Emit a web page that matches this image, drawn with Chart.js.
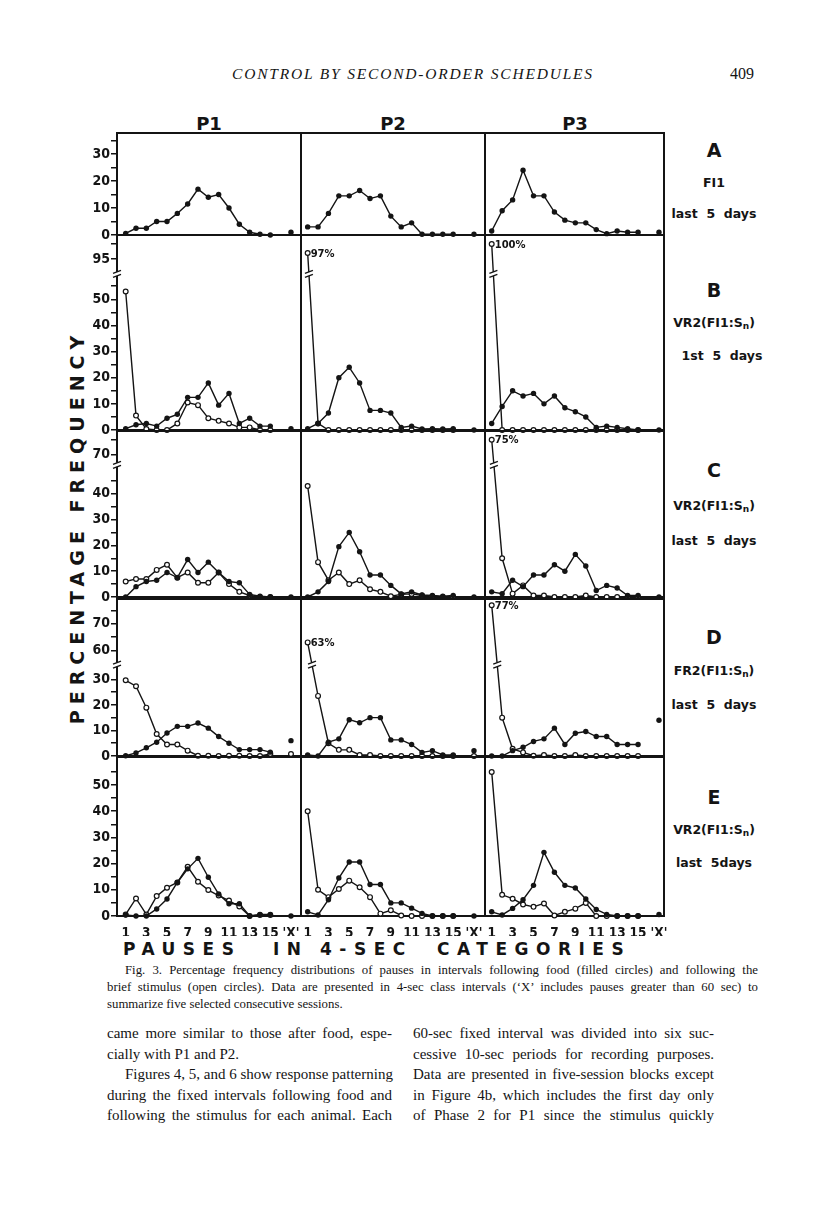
<!DOCTYPE html>
<html lang="en">
<head>
<meta charset="UTF-8">
<title>Fig. 3 - Control by second-order schedules</title>
<script src="https://cdn.jsdelivr.net/npm/chart.js"></script>
<style>
  body { margin: 0; background: #fff; }
  #page { position: relative; width: 816px; height: 1207px; overflow: hidden; color: #141414; font-family: "DejaVu Sans", sans-serif; }
  #page canvas { position: absolute; }
  .t { position: absolute; white-space: nowrap; transform: translate(-50%, -50%); }
  .head { font-family: "Liberation Serif", serif; font-style: italic; font-size: 15.5px; letter-spacing: 1.8px; }
  .pno { font-family: "Liberation Serif", serif; font-size: 16px; }
  .pl { font-weight: bold; font-size: 18px; }
  .letter { font-weight: bold; font-size: 19px; }
  .side { font-weight: bold; font-size: 12.5px; }
  .side sub { font-size: 9px; vertical-align: -2px; }
  .ytitle { font-weight: bold; font-size: 19px; letter-spacing: 6px; transform: translate(-50%, -50%) rotate(-90deg); }
  .xtitle { position: absolute; white-space: nowrap; font-weight: bold; font-size: 17px; letter-spacing: 7.5px; transform: translateY(-50%); }
  .ln { position: absolute; font-family: "Liberation Serif", serif; white-space: nowrap; text-align: justify; text-align-last: justify; transform: translateY(-50%); }
  .ln.last { text-align-last: left; }
  .cap { font-size: 12.8px; }
  .body { font-size: 15px; }
</style>
</head>
<body>
<div id="page">
  <div class="t head" style="left:413px; top:74px;">CONTROL BY SECOND-ORDER SCHEDULES</div>
  <div class="t pno" style="left:742px; top:74px;">409</div>

  <div class="t pl" style="left:209px; top:123px;">P1</div>
  <div class="t pl" style="left:393px; top:123px;">P2</div>
  <div class="t pl" style="left:575px; top:123px;">P3</div>

  <div class="t ytitle" style="left:77px; top:527px;">PERCENTAGE FREQUENCY</div>

  <div class="t letter" style="left:714px; top:150px;">A</div>
  <div class="t side" style="left:714px; top:182px;">FI1</div>
  <div class="t side" style="left:714px; top:213px;">last&nbsp; 5&nbsp; days</div>
  <div class="t letter" style="left:714px; top:290px;">B</div>
  <div class="t side" style="left:714px; top:323px;">VR2(FI1:S<sub>n</sub>)</div>
  <div class="t side" style="left:722px; top:355px;">1st&nbsp; 5&nbsp; days</div>
  <div class="t letter" style="left:714px; top:470px;">C</div>
  <div class="t side" style="left:714px; top:506px;">VR2(FI1:S<sub>n</sub>)</div>
  <div class="t side" style="left:714px; top:540px;">last&nbsp; 5&nbsp; days</div>
  <div class="t letter" style="left:714px; top:637px;">D</div>
  <div class="t side" style="left:714px; top:671px;">FR2(FI1:S<sub>n</sub>)</div>
  <div class="t side" style="left:714px; top:704px;">last&nbsp; 5&nbsp; days</div>
  <div class="t letter" style="left:714px; top:797px;">E</div>
  <div class="t side" style="left:714px; top:830px;">VR2(FI1:S<sub>n</sub>)</div>
  <div class="t side" style="left:714px; top:862px;">last&nbsp; 5days</div>

  <div class="xtitle" style="left:123px; top:949px;">PAUSES</div>
  <div class="xtitle" style="left:273px; top:949px;">IN</div>
  <div class="xtitle" style="left:320px; top:949px;">4-SEC</div>
  <div class="xtitle" style="left:437px; top:949px;">CATEGORIES</div>

  <div class="ln cap" style="left:125px; width:633px; top:970px;">Fig. 3. Percentage frequency distributions of pauses in intervals following food (filled circles) and following the</div>
  <div class="ln cap" style="left:107px; width:651px; top:987px;">brief stimulus (open circles). Data are presented in 4-sec class intervals (‘X’ includes pauses greater than 60 sec) to</div>
  <div class="ln cap last" style="left:107px; width:651px; top:1004px;">summarize five selected consecutive sessions.</div>

  <div class="ln body" style="left:107px; width:285px; top:1033px;">came more similar to those after food, espe-</div>
  <div class="ln body last" style="left:107px; width:285px; top:1054px;">cially with P1 and P2.</div>
  <div class="ln body" style="left:125px; width:267px; top:1074px;">Figures 4, 5, and 6 show response patterning</div>
  <div class="ln body" style="left:107px; width:285px; top:1095px;">during the fixed intervals following food and</div>
  <div class="ln body" style="left:107px; width:285px; top:1115px;">following the stimulus for each animal. Each</div>

  <div class="ln body" style="left:413px; width:301px; top:1033px;">60-sec fixed interval was divided into six suc-</div>
  <div class="ln body" style="left:413px; width:301px; top:1054px;">cessive 10-sec periods for recording purposes.</div>
  <div class="ln body" style="left:413px; width:301px; top:1074px;">Data are presented in five-session blocks except</div>
  <div class="ln body" style="left:413px; width:301px; top:1095px;">in Figure 4b, which includes the first day only</div>
  <div class="ln body" style="left:413px; width:301px; top:1115px;">of Phase 2 for P1 since the stimulus quickly</div>
</div>

<script>
// pause categories: 1..15, an empty slot, then 'X' (> 60 sec)
const CATEGORIES = ['1','2','3','4','5','6','7','8','9','10','11','12','13','14','15','','X'];
const X_TICKS = [1, 3, 5, 7, 9, 11, 13, 15, 17];
const X_TICK_LABELS = ['1','3','5','7','9','11','13','15',"'X'"];

// y ticks per row (raw percent values; broken axes jump)
const Y_TICKS_A = [0, 5, 10, 15, 20, 25, 30, 35];
const Y_TICKS_B = [0, 5, 10, 15, 20, 25, 30, 35, 40, 45, 50, 55, 95, 100];
const Y_TICKS_C = [0, 5, 10, 15, 20, 25, 30, 35, 40, 45, 70, 75];
const Y_TICKS_D = [0, 5, 10, 15, 20, 25, 30, 60, 65, 70, 75];
const Y_TICKS_E = [0, 5, 10, 15, 20, 25, 30, 35, 40, 45, 50, 55];

// A: FI1 last 5 days (food only)
const A_P1_FOOD = [0.6, 2.5, 2.5, 5, 5, 8, 11.5, 17, 14, 15, 10, 4, 1, 0.3, 0, null, 1];
const A_P2_FOOD = [3, 3, 8, 14.5, 14.5, 16.5, 13.5, 14.5, 7, 3, 4.5, 0.3, 0.3, 0.3, 0.3, null, 0.3];
const A_P3_FOOD = [1.5, 9, 13, 24, 14.5, 14.5, 8.5, 5.5, 4.5, 4.5, 2, 0.5, 1.5, 1, 1, null, 1];

// B: VR2(FI1:Sn) 1st 5 days
const B_P1_FOOD = [0.5, 2, 2.5, 1.5, 4.5, 6, 12.5, 12.5, 18, 9.5, 14, 2.5, 4.5, 1.5, 1.5, null, 0.5];
const B_P1_STIM = [53, 5.5, 0.4, 0, 0, 2.5, 10.5, 9.5, 4.5, 3.5, 2.5, 1, 1, 0, 0, null, null];
const B_P2_FOOD = [0.5, 2.5, 6.5, 20, 24, 18, 7.5, 7.5, 6.5, 1, 1.5, 0.4, 0.5, 0.4, 0.5, null, 0];
const B_P2_STIM = [97, 2.5, 0, 0, 0, 0, 0, 0, 0, 0, 0, 0, 0, 0, 0, null, null];
const B_P3_FOOD = [2.5, 9, 15, 13, 14, 10, 13, 8.5, 7, 5, 1, 1.5, 1, 0.5, 0, null, 0];
const B_P3_STIM = [100, 0, 0, 0, 0, 0, 0, 0, 0, 0, 0, 0, 0, 0, 0, null, null];

// C: VR2(FI1:Sn) last 5 days
const C_P1_FOOD = [0, 4, 6, 6.5, 9.5, 7.5, 14.5, 9.5, 13.5, 9.5, 6, 5.5, 1, 0.3, 0, null, 0];
const C_P1_STIM = [6, 7, 7, 10.5, 12.5, 7.5, 9.5, 5.5, 5.5, 9.5, 5, 2, 0.6, 0, 0, null, null];
const C_P2_FOOD = [0, 2, 6, 19.5, 25, 17.5, 8.5, 8.5, 4.5, 1.2, 2, 0.8, 0.6, 0.3, 0.6, null, 0];
const C_P2_STIM = [43, 13.5, 6.5, 9.5, 5, 6.5, 3, 2, 0.3, 1, 1.2, 0.6, 0.3, 0, 0, null, null];
const C_P3_FOOD = [2, 1.3, 6.5, 4, 8.5, 8.5, 12.5, 10, 16.5, 12, 2.5, 4.5, 3.5, 0.6, 0.6, null, 0];
const C_P3_STIM = [75, 15, 1.3, 4.5, 0.6, 0.6, 0, 0, 0, 0.6, 0, 0, 0, 0, 0, null, null];

// D: FR2(FI1:Sn) last 5 days
const D_P1_FOOD = [0.1, 1.2, 3.2, 5.4, 9, 11.6, 11.6, 12.9, 10.9, 7.6, 5, 2.5, 2.5, 2.5, 1.5, null, 6];
const D_P1_STIM = [29.6, 27.3, 18.9, 8.6, 4.5, 4.5, 2.1, 0.1, 0.1, 0, 0.1, 0.1, 0, 0, 0.8, null, 0.8];
const D_P2_FOOD = [0.4, 0, 5.4, 6.7, 14.2, 13, 15, 15, 6.3, 6.3, 4.5, 1.4, 2.1, 0.4, 0.4, null, 2.1];
const D_P2_STIM = [63, 23.5, 5, 2.4, 2.4, 0.4, 0.4, 0, 0, 0, 0, 0, 0, 0, 0, null, 0];
const D_P3_FOOD = [0, 0, 2.1, 3.4, 5.7, 6.7, 10.9, 4.5, 8.9, 9.6, 7.6, 7.6, 4.5, 4.5, 4.5, null, 14];
const D_P3_STIM = [77, 15, 2.8, 1.4, 0.1, 0.4, 0, 0, 0.4, 0, 0, 0, 0, 0, 0, null, null];

// E: VR2(FI1:Sn) last 5 days
const E_P1_FOOD = [0.4, 0, 0, 2.7, 6.5, 12.8, 18, 22, 14.8, 8.4, 4.7, 4.7, 0, 0.6, 0.6, null, 0];
const E_P1_STIM = [0.6, 6.7, 0.6, 7.6, 10.8, 12.8, 18.8, 13.1, 9.9, 7.8, 5.9, 3.6, 0, 0.4, 0.4, null, null];
const E_P2_FOOD = [1.6, 0.4, 6.2, 14.5, 20.6, 20.6, 12, 12, 5, 5, 3, 1, 0, 0, 0, null, 0];
const E_P2_STIM = [40, 10, 7.2, 10.3, 13.5, 11, 7.2, 0.9, 2.2, 0.2, 0, 0, 0, 0, 0, null, null];
const E_P3_FOOD = [1.6, 0.4, 2.9, 6.2, 11.7, 24.3, 16.7, 11.7, 10.7, 6.5, 2.5, 0.6, 0, 0, 0, null, 0.6];
const E_P3_STIM = [55, 8.1, 6.6, 4.4, 3.5, 4.8, 0.2, 1.6, 2.8, 5, 0, 0, 0, 0, 0, null, null];

const PANELS = [
  [{ food: A_P1_FOOD }, { food: A_P2_FOOD }, { food: A_P3_FOOD }],
  [{ food: B_P1_FOOD, stim: B_P1_STIM }, { food: B_P2_FOOD, stim: B_P2_STIM }, { food: B_P3_FOOD, stim: B_P3_STIM }],
  [{ food: C_P1_FOOD, stim: C_P1_STIM }, { food: C_P2_FOOD, stim: C_P2_STIM }, { food: C_P3_FOOD, stim: C_P3_STIM }],
  [{ food: D_P1_FOOD, stim: D_P1_STIM }, { food: D_P2_FOOD, stim: D_P2_STIM }, { food: D_P3_FOOD, stim: D_P3_STIM }],
  [{ food: E_P1_FOOD, stim: E_P1_STIM }, { food: E_P2_FOOD, stim: E_P2_STIM }, { food: E_P3_FOOD, stim: E_P3_STIM }]
];

// layout of the grid (page pixels) and axis setup per row
const ROWS = [
  { top: 133, bottom: 235, max: 37.8, ticks: Y_TICKS_A, brk: null },
  { top: 235, bottom: 430, max: 74.6, ticks: Y_TICKS_B, brk: { lo: 55, at: 59.7, base: 65.4, ref: 95, k: 1.15 } },
  { top: 431, bottom: 597, max: 64.3, ticks: Y_TICKS_C, brk: { lo: 45, at: 51.2, base: 55.1, ref: 70, k: 1.16 } },
  { top: 599, bottom: 756, max: 61.4, ticks: Y_TICKS_D, brk: { lo: 32, at: 35.7, base: 41.3, ref: 60, k: 1.04 } },
  { top: 757, bottom: 916, max: 60.7, ticks: Y_TICKS_E, brk: null }
];
const COLS = [
  { left: 117, right: 301, xmin: 0.16, xmax: 17.97 },
  { left: 301, right: 485, xmin: 0.36, xmax: 18.06 },
  { left: 485, right: 664, xmin: 0.36, xmax: 17.48 }
];

const INK = '#141414';
const PAD = 14, AXW = 62, XH = 20;
const TICK_FONT = { family: '"DejaVu Sans Condensed", "Liberation Sans Narrow", sans-serif', size: 14, weight: 'bold' };

function mapY(brk, v) {
  if (v === null) return null;
  if (!brk || v <= brk.lo) return v;
  return brk.base + (v - brk.ref) * brk.k;
}

function yLabel(v) {
  return (v % 10 === 0 && v < 100) || v === 95 ? String(v) : '';
}

function drawBreak(ctx, x, y) {
  ctx.save();
  ctx.strokeStyle = INK;
  ctx.lineWidth = 1.4;
  ctx.fillStyle = '#fff';
  ctx.fillRect(x - 3, y - 2, 6, 4);
  [-2, 2].forEach(d => {
    ctx.beginPath();
    ctx.moveTo(x - 4, y + d + 1.5);
    ctx.lineTo(x + 4, y + d - 1.5);
    ctx.stroke();
  });
  ctx.restore();
}

const figPlugin = {
  id: 'fig',
  beforeDatasetsDraw(chart, args, opts) {
    const a = chart.chartArea, ctx = chart.ctx;
    ctx.save();
    ctx.strokeStyle = INK;
    ctx.lineWidth = 2;
    ctx.strokeRect(a.left, a.top, a.right - a.left, a.bottom - a.top);
    ctx.restore();
  },
  afterDatasetsDraw(chart, args, opts) {
    const brk = ROWS[opts.row].brk;
    if (!brk) return;
    const ctx = chart.ctx;
    const yb = chart.scales.y.getPixelForValue(brk.at);
    if (opts.col === 0) drawBreak(ctx, chart.chartArea.left, yb);
    chart.data.datasets.forEach((ds, i) => {
      if (ds.values[0] <= brk.lo) return;
      const pts = chart.getDatasetMeta(i).data;
      const p0 = pts[0], p1 = pts[1];
      const t = (yb - p0.y) / (p1.y - p0.y);
      drawBreak(ctx, p0.x + t * (p1.x - p0.x), yb);
      ctx.save();
      ctx.fillStyle = INK;
      ctx.font = 'bold 10px "DejaVu Sans", sans-serif';
      ctx.textBaseline = 'middle';
      ctx.fillText(ds.values[0] + '%', p0.x + 3, p0.y + 1);
      ctx.restore();
    });
  }
};

function makeDataset(values, filled, brk) {
  return {
    values: values,
    data: values.map((v, i) => ({ x: i + 1, y: mapY(brk, v) })),
    borderColor: INK,
    borderWidth: 1.4,
    pointRadius: filled ? 2.7 : 2.4,
    pointBackgroundColor: filled ? INK : '#fff',
    pointBorderColor: INK,
    pointBorderWidth: filled ? 0 : 1.2,
    pointHoverRadius: 0,
    tension: 0,
    fill: false,
    clip: false,
    spanGaps: false
  };
}

function makePanel(r, c) {
  const row = ROWS[r], col = COLS[c];
  const showX = r === ROWS.length - 1;
  const showY = c === 0;
  const leftSpace = showY ? AXW : PAD;
  const cv = document.createElement('canvas');
  cv.width = col.right - col.left + leftSpace + PAD;
  cv.height = row.bottom - row.top + 2 * PAD + (showX ? XH : 0);
  cv.style.left = (col.left - leftSpace) + 'px';
  cv.style.top = (row.top - PAD) + 'px';
  document.getElementById('page').appendChild(cv);

  const series = PANELS[r][c];
  const datasets = [makeDataset(series.food, true, row.brk)];
  if (series.stim) datasets.push(makeDataset(series.stim, false, row.brk));

  new Chart(cv, {
    type: 'line',
    data: { labels: CATEGORIES, datasets: datasets },
    plugins: [figPlugin],
    options: {
      responsive: false,
      animation: false,
      devicePixelRatio: 1,
      events: [],
      layout: { autoPadding: false, padding: { left: showY ? 0 : PAD, right: PAD, top: PAD, bottom: PAD } },
      plugins: { legend: { display: false }, tooltip: { enabled: false }, fig: { row: r, col: c } },
      scales: {
        x: {
          type: 'linear',
          min: col.xmin,
          max: col.xmax,
          display: showX,
          afterBuildTicks: s => { s.ticks = X_TICKS.map(v => ({ value: v })); },
          afterFit: s => { if (showX) s.height = XH; },
          grid: { display: false },
          border: { display: false },
          ticks: {
            autoSkip: false, maxRotation: 0, padding: 1, color: INK,
            font: { family: TICK_FONT.family, size: 13.5, weight: 'bold' },
            callback: (v, i) => X_TICK_LABELS[i]
          }
        },
        y: {
          min: 0,
          max: row.max,
          display: showY,
          afterBuildTicks: s => { s.ticks = row.ticks.map(v => ({ value: mapY(row.brk, v) })); },
          afterFit: s => { if (showY) s.width = AXW; },
          grid: { drawOnChartArea: false, drawTicks: true, tickLength: 6, color: INK, lineWidth: 1.5 },
          border: { display: false },
          ticks: {
            autoSkip: false, padding: 1, color: INK, font: TICK_FONT,
            callback: (v, i) => yLabel(row.ticks[i])
          }
        }
      }
    }
  });
}

for (let r = 0; r < ROWS.length; r++) {
  for (let c = 0; c < COLS.length; c++) {
    makePanel(r, c);
  }
}
</script>
</body>
</html>
